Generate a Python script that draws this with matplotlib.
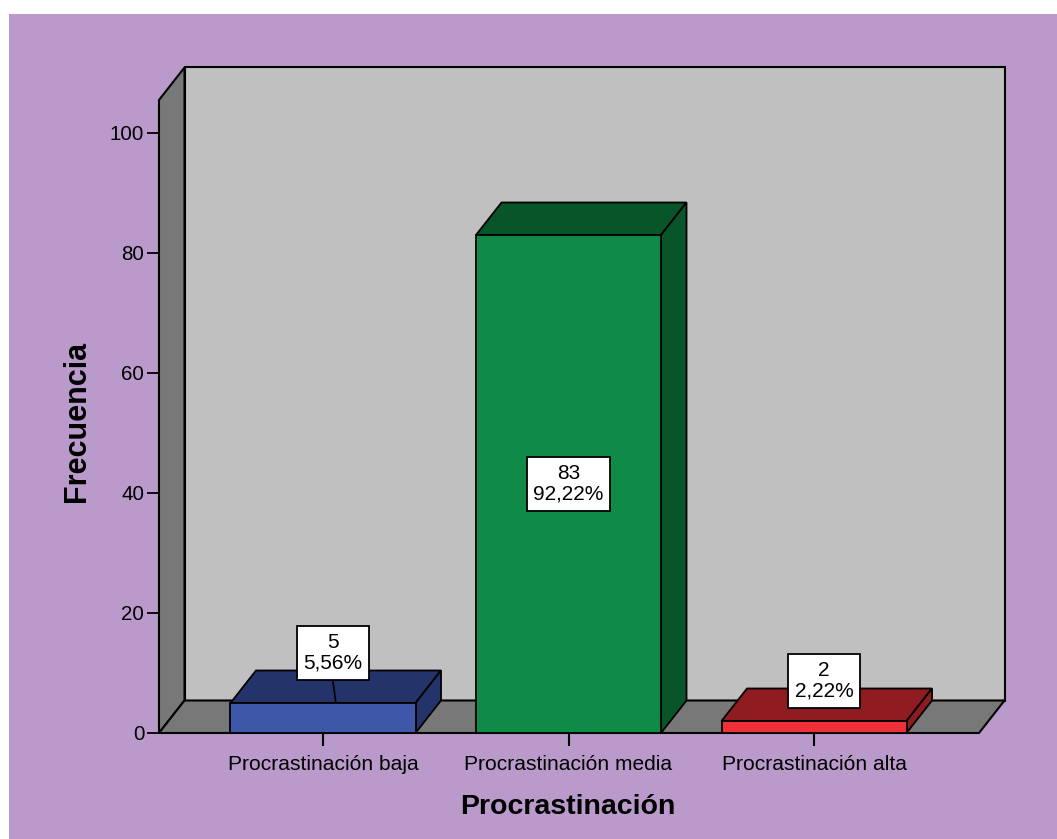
import matplotlib
matplotlib.use("Agg")
import matplotlib.pyplot as plt
from matplotlib.patches import Polygon, Rectangle
from matplotlib.transforms import IdentityTransform, offset_copy
from matplotlib.lines import Line2D

# ---------------- data ----------------
categories = ["Procrastinación baja", "Procrastinación media", "Procrastinación alta"]
counts = [5, 83, 2]
y_ticks = [0, 20, 40, 60, 80, 100]
x_title = "Procrastinación"
y_title = "Frecuencia"

# ---------------- style ----------------
front_colors = ["#3F57A8", "#108B47", "#F03038"]
dark_colors = ["#24346B", "#08552A", "#8E1C20"]
purple = "#B99ACA"
wall_back = "#C0C0C0"
wall_side = "#787878"
FONT = "Liberation Sans"

W, H = 1057, 839
DX, DY = 25.5, 32.5          # 3D depth offset in pixels
YMAX = 105.5
XLIM = (-0.668, 2.672)
BAR_W = 0.7536
label_lift_px = [50, None, 40]   # label box centre above bar top (None -> centred in bar)
label_shift_px = 10

fig = plt.figure(figsize=(W / 100, H / 100), dpi=100)
fig.patch.set_facecolor("white")
fig.add_artist(Rectangle((9 / W, 0), 1 - 9 / W, (H - 14) / H, transform=fig.transFigure,
                         facecolor=purple, edgecolor="none", zorder=-10))

ax = fig.add_axes([159 / W, (H - 733) / H, 820 / W, YMAX * 6 / H])
ax.set_xlim(*XLIM)
ax.set_ylim(0, YMAX)
ax.patch.set_visible(False)
for s in ax.spines.values():
    s.set_visible(False)


def disp(x, y, back=False):
    px, py = ax.transData.transform((x, y))
    if back:
        px += DX
        py += DY
    return (px, py)


def face(points, color, z, lw=1.5):
    poly = Polygon(points, closed=True, facecolor=color, edgecolor="black", lw=lw,
                   transform=IdentityTransform(), clip_on=False, zorder=z, joinstyle="miter")
    ax.add_artist(poly)


x0, x1 = XLIM
# back wall
face([disp(x0, 0, True), disp(x1, 0, True), disp(x1, YMAX, True), disp(x0, YMAX, True)], wall_back, 1)
# left wall
face([disp(x0, 0), disp(x0, YMAX), disp(x0, YMAX, True), disp(x0, 0, True)], wall_side, 1.1)
# floor
face([disp(x0, 0), disp(x1, 0), disp(x1, 0, True), disp(x0, 0, True)], wall_side, 1.2)

# bars
xs = list(range(len(categories)))
ax.bar(xs, counts, width=BAR_W, color=front_colors, edgecolor="black", linewidth=1.3, zorder=4)
for i, v in enumerate(counts):
    l, r = i - BAR_W / 2, i + BAR_W / 2
    face([disp(l, v), disp(r, v), disp(r, v, True), disp(l, v, True)], dark_colors[i], 3, lw=1.3)
    face([disp(r, 0), disp(r, v), disp(r, v, True), disp(r, 0, True)], dark_colors[i], 3, lw=1.3)

# value labels
total = sum(counts)
for i, v in enumerate(counts):
    pct = f"{100 * v / total:.2f}".replace(".", ",") + "%"
    txt = f"{v}\n{pct}"
    lift = label_lift_px[i]
    if lift is None:
        tr = ax.transData
        y = v / 2
    else:
        tr = offset_copy(ax.transData, fig=fig, x=label_shift_px, y=lift, units="dots")
        y = v
    ax.text(i, y, txt, transform=tr, ha="center", va="center", multialignment="center",
            fontsize=15, family=FONT, linespacing=1.12, zorder=10,
            bbox=dict(boxstyle="square,pad=0.32", facecolor="white", edgecolor="black", lw=1.3))
    if lift is not None and lift > 45:
        bx, by = disp(i, v)
        ln = Line2D([bx + DX / 2, bx + label_shift_px], [by + 1, by + lift - 29],
                    transform=IdentityTransform(), color="black", lw=1.2, zorder=9)
        ax.add_artist(ln)

# ticks
ax.set_yticks(y_ticks)
ax.set_yticklabels([str(t) for t in y_ticks], family=FONT, fontsize=14.8)
ax.set_xticks(xs)
ax.set_xticklabels(categories, family=FONT, fontsize=15.1)
ax.tick_params(axis="y", length=8.6, width=1.3, pad=2, colors="black", direction="out")
ax.tick_params(axis="x", length=9.4, width=1.5, pad=6.5, colors="black", direction="out")

# axis titles
fig.text(568 / W, 1 - 807 / H, x_title, ha="center", va="center", fontsize=20.5,
         fontweight="bold", family=FONT)
fig.text(77 / W, 1 - 421 / H, y_title, ha="center", va="center", rotation=90, fontsize=22,
         fontweight="bold", family=FONT)

fig.savefig("out.png", dpi=100)
